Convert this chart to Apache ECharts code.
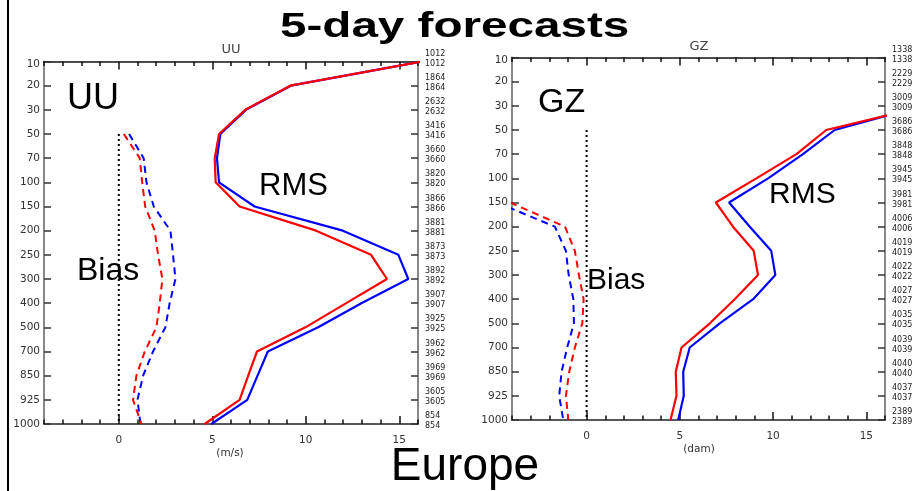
<!DOCTYPE html>
<html>
<head>
<meta charset="utf-8">
<script src="https://cdn.jsdelivr.net/npm/echarts@6/dist/echarts.min.js"></script>
<style>
html,body{margin:0;padding:0;background:#fff;}
#c{width:918px;height:491px;}
</style>
</head>
<body>
<div id="c"></div>
<script>
// ---- data ----
var levels = ['10','20','30','50','70','100','150','200','250','300','400','500','700','850','925','1000'];

var uuRmsRed  = [16.2, 9.17, 6.76, 5.36, 5.13, 5.18, 6.46, 10.55, 13.49, 14.34, 12.16, 9.98, 7.39, 6.92, 6.46, 4.59];
var uuRmsBlue = [16.2, 9.20, 6.80, 5.43, 5.25, 5.36, 7.26, 11.98, 14.95, 15.48, 12.97, 10.66, 7.97, 7.42, 6.87, 4.95];
var uuBiasRed  = [null, null, null, 0.27, 1.12, 1.25, 1.41, 1.92, 2.10, 2.33, 2.19, 2.01, 1.39, 0.94, 0.76, 1.21];
var uuBiasBlue = [null, null, null, 0.55, 1.33, 1.48, 1.87, 2.76, 2.90, 3.03, 2.72, 2.49, 1.83, 1.30, 1.00, 1.16];
var uuZero     = [null, null, null, 0, 0, 0, 0, 0, 0, 0, 0, 0, 0, 0, 0, 0];
var uuCountsA = ['1012','1864','2632','3416','3660','3820','3866','3881','3873','3892','3907','3925','3962','3969','3605','854'];
var uuCountsB = ['1012','1864','2632','3416','3660','3820','3866','3881','3873','3892','3907','3925','3962','3969','3605','854'];

var gzRmsRed  = [null, null, 18.2, 12.85, 11.25, 9.10, 6.93, 7.85, 8.96, 9.19, 7.94, 6.61, 5.09, 4.78, 4.82, 4.50];
var gzRmsBlue = [null, null, 18.0, 13.30, 11.60, 9.73, 7.64, 8.75, 9.90, 10.12, 8.93, 7.14, 5.53, 5.18, 5.21, 4.91];
var gzBiasRed  = [null, null, null, null, null, null, -4.1, -1.16, -0.63, -0.41, -0.16, -0.23, -0.63, -0.93, -1.11, -0.98];
var gzBiasBlue = [null, null, null, null, null, null, -4.8, -1.70, -1.11, -0.96, -0.71, -0.68, -1.04, -1.34, -1.47, -1.25];
var gzZero     = [null, null, null, 0, 0, 0, 0, 0, 0, 0, 0, 0, 0, 0, 0, 0];
var gzCountsA = ['1338','2229','3009','3686','3848','3945','3981','4006','4019','4022','4027','4035','4039','4040','4037','2389'];
var gzCountsB = ['1338','2229','3009','3686','3848','3945','3981','4006','4019','4022','4027','4035','4039','4040','4037','2389'];

var xMin = -4, xMax = 16;
var xMajorTicks = [0, 5, 10, 15];

// ---- styles ----
var RED = '#ff0000', BLUE = '#0000ff';
var tickFont = 'DejaVu Sans';
var bigFont = 'Liberation Sans';

function xAxes(grid) {
  var base = {
    gridIndex: grid, type: 'value', min: xMin, max: xMax, splitLine: {show: false}
  };
  return [
    Object.assign({}, base, {
      position: 'bottom', interval: 1,
      axisLine: {show: true, onZero: false, lineStyle: {color: '#222', width: 1.5}},
      axisTick: {show: true, inside: true, length: 4.5, lineStyle: {color: '#111', width: 1.5}},
      axisLabel: {margin: 11, color: '#333', fontFamily: tickFont, fontSize: 10.5,
        formatter: function (v) { return (v % 5 === 0 && v >= 0) ? String(v) : ''; }}
    }),
    Object.assign({}, base, {
      position: 'top', interval: 1,
      axisLine: {show: true, onZero: false, lineStyle: {color: '#111', width: 1.5}},
      axisTick: {show: true, inside: true, length: 4.5, lineStyle: {color: '#111', width: 1.5}},
      axisLabel: {show: false}
    }),
    Object.assign({}, base, {
      position: 'bottom',
      axisLine: {show: false, onZero: false},
      axisTick: {show: true, inside: true, length: 8, customValues: xMajorTicks, lineStyle: {color: '#111', width: 1.5}},
      axisLabel: {show: false}
    }),
    Object.assign({}, base, {
      position: 'top',
      axisLine: {show: false, onZero: false},
      axisTick: {show: true, inside: true, length: 8, customValues: xMajorTicks, lineStyle: {color: '#111', width: 1.5}},
      axisLabel: {show: false}
    })
  ];
}

function yAxes(grid, countsA, countsB) {
  return [
    {
      gridIndex: grid, type: 'category', data: levels, inverse: true, boundaryGap: false,
      position: 'left',
      axisLine: {show: true, onZero: false, lineStyle: {color: '#888', width: 2}},
      axisTick: {show: true, inside: true, length: 7, interval: 0, lineStyle: {color: '#333', width: 1.5}},
      axisLabel: {interval: 0, margin: 4, color: '#333', fontFamily: tickFont, fontSize: 10.5,
        formatter: function (v, i) { return i === 0 ? '{s| }\n{a|' + v + '}' : '{a|' + v + '}'; },
        rich: {
          a: {fontFamily: tickFont, fontSize: 10.5, color: '#333', lineHeight: 13},
          s: {fontSize: 1, lineHeight: 6}
        }},
      splitLine: {show: false}
    },
    {
      gridIndex: grid, type: 'category', data: levels, inverse: true, boundaryGap: false,
      position: 'right',
      axisLine: {show: true, onZero: false, lineStyle: {color: '#888', width: 2}},
      axisTick: {show: true, inside: true, length: 7, interval: 0, lineStyle: {color: '#333', width: 1.5}},
      axisLabel: {interval: 0, margin: 7, color: '#222', fontFamily: tickFont, fontSize: 8,
        formatter: function (v, i) { return '{a|' + countsA[i] + '}\n{a|' + countsB[i] + '}\n{s| }'; },
        rich: {
          a: {fontFamily: tickFont, fontSize: 8, color: '#222', lineHeight: 10},
          s: {fontSize: 1, lineHeight: 6}
        }},
      splitLine: {show: false}
    }
  ];
}

function series(grid, rmsRed, rmsBlue, biasRed, biasBlue, zero) {
  var xi = grid * 4, yi = grid * 2;
  function s(data, color, type, width) {
    return {
      type: 'line', xAxisIndex: xi, yAxisIndex: yi, data: data, showSymbol: false, symbol: 'none',
      clip: true, silent: true, connectNulls: false,
      lineStyle: {color: color, width: width, type: type}
    };
  }
  return [
    s(zero, '#000', [2, 3], 2),
    s(rmsBlue, BLUE, 'solid', 2.2),
    s(rmsRed, RED, 'solid', 2.2),
    s(biasBlue, BLUE, [7, 5], 2),
    s(biasRed, RED, [7, 5], 2)
  ];
}

function txt(text, x, y, size, opts) {
  opts = opts || {};
  return {
    type: 'text', x: x, y: y, scaleX: opts.scaleX || 1, silent: true, z: 100,
    style: {
      text: text, fill: opts.color || '#000',
      font: (opts.weight || 'normal') + ' ' + size + 'px "' + (opts.family || bigFont) + '"',
      textAlign: opts.align || 'left', textVerticalAlign: 'middle'
    }
  };
}

var chart = echarts.init(document.getElementById('c'), null, {renderer: 'canvas'});
chart.setOption({
  animation: false,
  backgroundColor: '#fff',
  grid: [
    {left: 44, top: 61.5, width: 374, height: 362.5},
    {left: 512, top: 57.5, width: 373, height: 362.5}
  ],
  xAxis: xAxes(0).concat(xAxes(1)),
  yAxis: yAxes(0, uuCountsA, uuCountsB).concat(yAxes(1, gzCountsA, gzCountsB)),
  series: series(0, uuRmsRed, uuRmsBlue, uuBiasRed, uuBiasBlue, uuZero)
    .concat(series(1, gzRmsRed, gzRmsBlue, gzBiasRed, gzBiasBlue, gzZero)),
  graphic: [
    {type: 'line', silent: true, shape: {x1: 8, y1: 0, x2: 8, y2: 491}, style: {stroke: '#000', lineWidth: 2}},
    txt('5-day forecasts', 280, 27, 35, {weight: 'bold', scaleX: 1.36}),
    txt('Europe', 465, 467, 46, {align: 'center'}),
    txt('UU', 231, 50, 13, {align: 'center', family: tickFont, color: '#444'}),
    txt('GZ', 699, 47, 13, {align: 'center', family: tickFont, color: '#444'}),
    txt('(m/s)', 230, 453, 10.5, {align: 'center', family: tickFont, color: '#333'}),
    txt('(dam)', 699, 449, 10.5, {align: 'center', family: tickFont, color: '#333'}),
    txt('UU', 67, 99, 36),
    txt('Bias', 77, 271, 32),
    txt('RMS', 259, 186, 31),
    txt('GZ', 538, 103, 34),
    txt('Bias', 587, 281, 30),
    txt('RMS', 769, 195, 30)
  ]
});
</script>
</body>
</html>
